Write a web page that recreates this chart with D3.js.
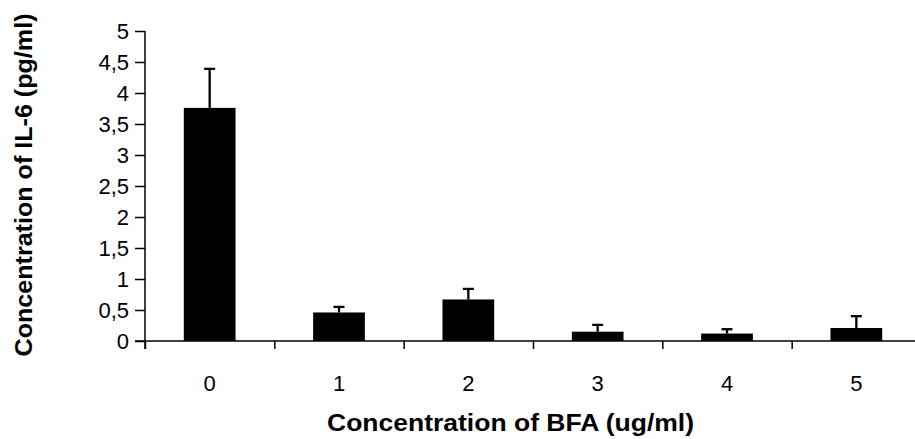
<!DOCTYPE html>
<html>
<head>
<meta charset="utf-8">
<script src="https://cdn.jsdelivr.net/npm/d3@7"></script>
<style>
  html, body { margin: 0; padding: 0; background: #fff; }
  svg { display: block; }
  text { font-family: "Liberation Sans", Arial, sans-serif; fill: #000; }
</style>
</head>
<body>
<svg id="chart" width="915" height="439"></svg>
<script>
const categories = ["0", "1", "2", "3", "4", "5"];
const values = [3.76, 0.46, 0.67, 0.15, 0.12, 0.21];
const errors = [0.63, 0.09, 0.17, 0.11, 0.07, 0.19];
const yTicks = [0, 0.5, 1, 1.5, 2, 2.5, 3, 3.5, 4, 4.5, 5];
const xTitle = "Concentration of BFA (ug/ml)";
const yTitle = "Concentration of IL-6 (pg/ml)";

const svg = d3.select("#chart");
const mLeft = 145, mRight = 921, mTop = 31, mBottom = 341;

const x = d3.scaleBand().domain(categories).range([mLeft, mRight]).padding(0);
const xEdge = d3.scaleLinear().domain([0, categories.length]).range([mLeft, mRight]);
const y = d3.scaleLinear().domain([0, 5]).range([mBottom, mTop]);

// Bars
const barW = x.bandwidth() * 0.4;
svg.append("g").selectAll("rect").data(categories).join("rect")
  .attr("x", (d) => x(d) + (x.bandwidth() - barW) / 2)
  .attr("y", (d, i) => y(values[i]))
  .attr("width", barW)
  .attr("height", (d, i) => y(0) - y(values[i]))
  .attr("fill", "#000");

// Error bars (upper only)
const eg = svg.append("g").attr("stroke", "#000").attr("stroke-width", 2.3);
categories.forEach((d, i) => {
  const cx = x(d) + x.bandwidth() / 2;
  eg.append("line").attr("x1", cx).attr("x2", cx)
    .attr("y1", y(values[i])).attr("y2", y(values[i] + errors[i]));
  eg.append("line").attr("x1", cx - 5.5).attr("x2", cx + 5.5)
    .attr("y1", y(values[i] + errors[i])).attr("y2", y(values[i] + errors[i]));
});

// Y axis
const yAxis = svg.append("g").attr("transform", `translate(${mLeft},0)`)
  .call(d3.axisLeft(y).tickValues(yTicks).tickSize(10).tickPadding(6)
    .tickFormat((v) => String(v).replace(".", ",")));
yAxis.select(".domain").attr("d", `M0,${mTop}V${mBottom + 8}`).attr("stroke", "#000").attr("stroke-width", 1.5);
yAxis.selectAll(".tick line").attr("stroke", "#000").attr("stroke-width", 1.5);
yAxis.selectAll("text").attr("font-size", 22).attr("font-family", "Liberation Sans, Arial, sans-serif").attr("fill", "#000");

// X axis: boundary ticks
const xTickAxis = svg.append("g").attr("transform", `translate(0,${mBottom})`)
  .call(d3.axisBottom(xEdge).tickValues(d3.range(0, categories.length + 1)).tickSize(8).tickFormat(""));
xTickAxis.select(".domain").attr("d", `M${mLeft - 10},0H${mRight}`).attr("stroke", "#000").attr("stroke-width", 1.5);
xTickAxis.selectAll(".tick line").attr("stroke", "#000").attr("stroke-width", 1.5);

// X axis: category labels
const xLabAxis = svg.append("g").attr("transform", `translate(0,${mBottom})`)
  .call(d3.axisBottom(x).tickSize(0).tickPadding(34));
xLabAxis.select(".domain").remove();
xLabAxis.selectAll("text").attr("font-size", 22).attr("font-family", "Liberation Sans, Arial, sans-serif").attr("fill", "#000");

// Titles
svg.append("text")
  .attr("x", 510.5).attr("y", 431)
  .attr("text-anchor", "middle")
  .attr("font-size", 23).attr("font-weight", "bold")
  .attr("textLength", 367).attr("lengthAdjust", "spacingAndGlyphs")
  .text(xTitle);

svg.append("text")
  .attr("transform", "translate(32,185) rotate(-90)")
  .attr("text-anchor", "middle")
  .attr("font-size", 23).attr("font-weight", "bold")
  .attr("textLength", 343).attr("lengthAdjust", "spacingAndGlyphs")
  .text(yTitle);
</script>
</body>
</html>
